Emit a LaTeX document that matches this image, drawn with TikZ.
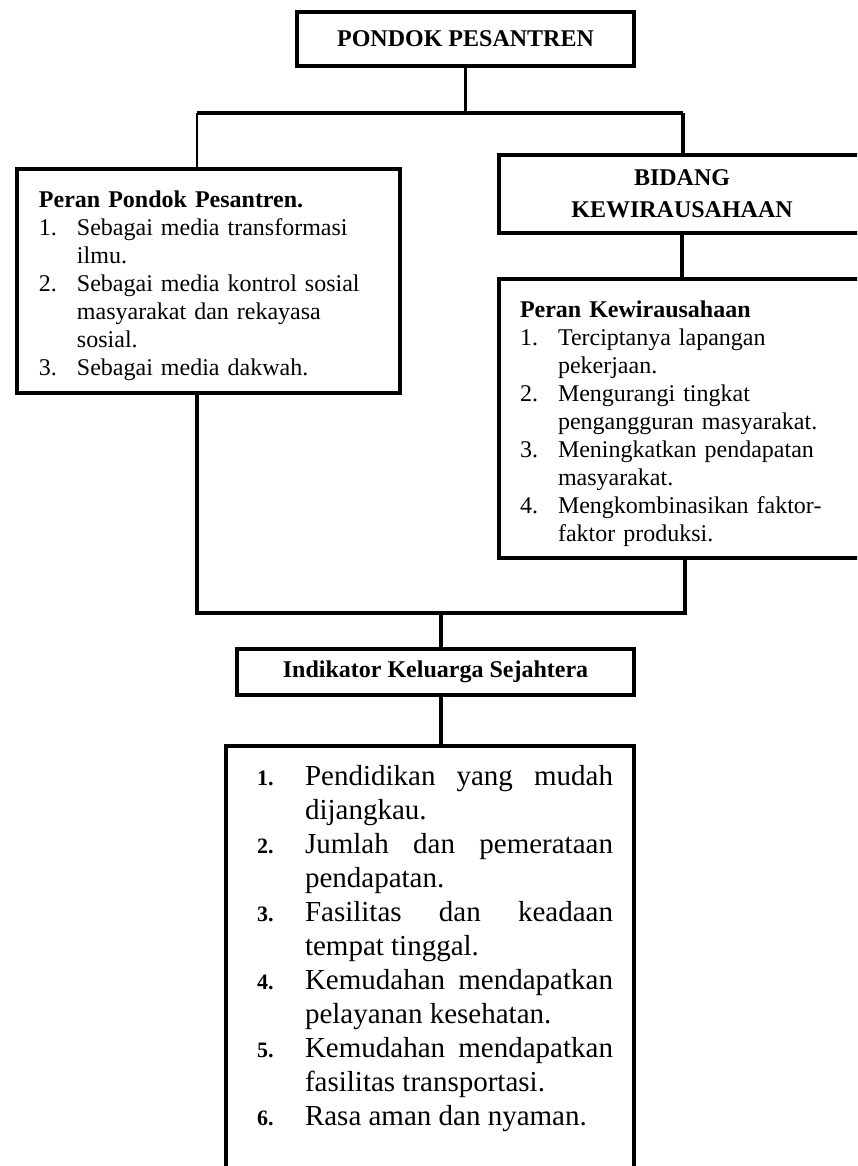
\documentclass[tikz,border=0pt]{standalone}
\usepackage{fontspec}
\setmainfont{Liberation Serif}
\usepackage{tikz}

\newcommand{\butir}[2]{\makebox[19pt][l]{#1}#2}
\newcommand{\poin}[2]{\hangindent=24pt\hangafter=1\noindent
  \makebox[24pt][l]{\fontsize{11}{17}\selectfont\bfseries #1}#2\par}

\begin{document}
\begin{tikzpicture}[x = 0.5pt, y = -0.5pt,
    kotak/.style = {draw, rectangle, line width = 2pt, inner sep = 0pt},
    judul/.style = {kotak, align = center, font = \bfseries\fontsize{12}{16}\selectfont},
    isi/.style = {kotak, align = left, font = \fontsize{12}{14}\selectfont},
    garis/.style = {line width = 1.7pt},
    garis tipis/.style = {line width = 1pt}]
\useasboundingbox (0,0) rectangle (857,1166);
\clip (0,0) rectangle (857,1166);

\node (pondok) [judul, minimum width = 168.5pt, minimum height = 27pt] at (465.5,39) {PONDOK PESANTREN};
\node (bidang) [judul, minimum width = 183pt, minimum height = 39pt] at (682,194) {BIDANG\\KEWIRAUSAHAAN};

\node (peranpondok) [isi, text width = 169.5pt, inner xsep = 11pt, minimum height = 112pt] at (208.5,281) {
    \rule{0pt}{13.5pt}\textbf{Peran Pondok Pesantren.}\\
    \butir{1.}{Sebagai media transformasi}\\
    \butir{}{ilmu.}\\
    \butir{2.}{Sebagai media kontrol sosial}\\
    \butir{}{masyarakat dan rekayasa}\\
    \butir{}{sosial.}\\
    \butir{3.}{Sebagai media dakwah.}};

\node (peranwira) [isi, text width = 164pt, inner xsep = 10.5pt, minimum height = 139.5pt] at (684,418.5) {
    \rule{0pt}{13.5pt}\textbf{Peran Kewirausahaan}\\
    \butir{1.}{Terciptanya lapangan}\\
    \butir{}{pekerjaan.}\\
    \butir{2.}{Mengurangi tingkat}\\
    \butir{}{pengangguran masyarakat.}\\
    \butir{3.}{Meningkatkan pendapatan}\\
    \butir{}{masyarakat.}\\
    \butir{4.}{Mengkombinasikan faktor-}\\
    \butir{}{faktor produksi.}};

\node (indikator) [judul, minimum width = 198.5pt, minimum height = 23pt] at (435.5,672) {Indikator Keluarga Sejahtera};

\node (daftar) [kotak, anchor = north, text width = 183pt, inner xsep = 10.5pt, inner ysep = 9pt,
    align = justify, font = \fontsize{14.5}{17}\selectfont] at (430,744) {
    \hyphenpenalty=10000 \tolerance=10000 \leftskip=5pt \parindent=0pt
    \poin{1.}{\rule{0pt}{10.5pt}Pendidikan yang mudah\linebreak dijangkau.}
    \poin{2.}{Jumlah dan pemerataan\linebreak pendapatan.}
    \poin{3.}{Fasilitas dan keadaan\linebreak tempat tinggal.}
    \poin{4.}{Kemudahan mendapatkan\linebreak pelayanan kesehatan.}
    \poin{5.}{Kemudahan mendapatkan\linebreak fasilitas transportasi.}
    \poin{6.}{Rasa aman dan nyaman.}
    \noindent\rule{0pt}{40pt}\par};

\coordinate (kiriatas) at (197,113);
\coordinate (kananatas) at (683,113);
\coordinate (kiribawah) at (197,613);
\coordinate (kananbawah) at (685,613);
\coordinate (tengah) at (441,613);

\draw[garis] (pondok.south) -- (pondok.south |- kiriatas);
\draw[garis] (kiriatas) -- (kananatas);
\draw[garis tipis] (kiriatas) -- (kiriatas |- peranpondok.north);
\draw[garis] (kananatas) -- (kananatas |- bidang.north);
\draw[garis] (bidang.south) -- (bidang.south |- peranwira.north);
\draw[garis, line width = 2pt] (kiribawah |- peranpondok.south) -- (kiribawah) -- (kananbawah) -- (kananbawah |- peranwira.south);
\draw[garis, line width = 2pt] (tengah) -- (tengah |- indikator.north);
\draw[garis, line width = 2pt] (tengah |- indikator.south) -- (tengah |- daftar.north);
\end{tikzpicture}
\end{document}
